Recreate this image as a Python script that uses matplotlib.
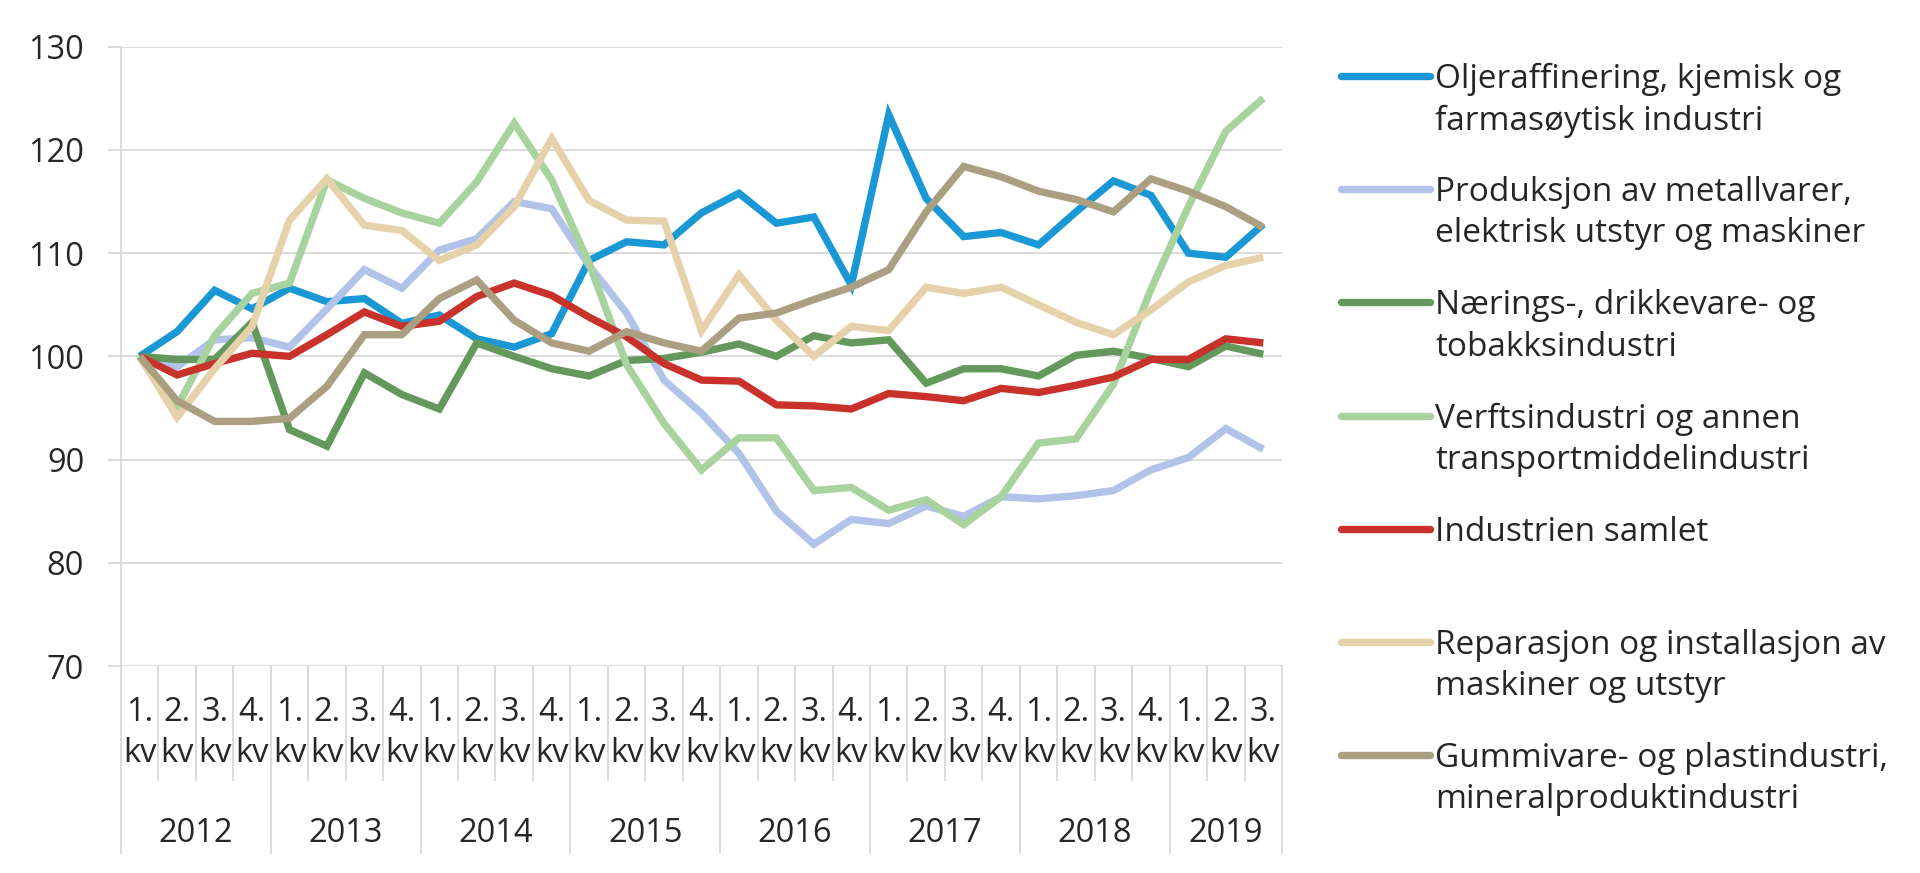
import matplotlib
matplotlib.use("Agg")
import matplotlib.pyplot as plt
import matplotlib.transforms as mtransforms
from matplotlib.lines import Line2D
import numpy as np

# kvartal 2012 K1 - 2019 K3, indeks 2012 K1 = 100
years = ['2012', '2013', '2014', '2015', '2016', '2017', '2018', '2019']
quarters = ['1.\nkv', '2.\nkv', '3.\nkv', '4.\nkv']
n_quarters = 31

names = ['Oljeraffinering, kjemisk og\nfarmasøytisk industri',
         'Produksjon av metallvarer,\nelektrisk utstyr og maskiner',
         'Nærings-, drikkevare- og\ntobakksindustri',
         'Verftsindustri og annen\ntransportmiddelindustri',
         'Industrien samlet',
         'Reparasjon og installasjon av\nmaskiner og utstyr',
         'Gummivare- og plastindustri,\nmineralproduktindustri']
colors = ['#1a98d5', '#b1c3e8', '#64985c', '#a8d29e', '#c8322a', '#e6d2aa', '#ab9f82']

olje = [100, 102.4, 106.4, 104.6, 106.6, 105.3, 105.6, 103.2, 104, 101.7, 100.9, 102.2,
        109.3, 111.1, 110.8, 113.9, 115.8, 112.9, 113.5, 106.9, 123.4, 115.3, 111.6, 112,
        110.8, 114, 117, 115.6, 110, 109.6, 112.8]
metall = [100, 99, 101.6, 101.8, 100.9, 104.6, 108.4, 106.6, 110.3, 111.4, 115, 114.3,
          108.8, 104.2, 97.7, 94.5, 90.6, 85, 81.8, 84.2, 83.8, 85.5, 84.5, 86.4,
          86.2, 86.5, 87, 89, 90.2, 93, 91]
naerings = [100, 99.7, 99.7, 103.3, 92.9, 91.3, 98.4, 96.3, 94.9, 101.3, 100, 98.8,
            98.1, 99.6, 99.8, 100.4, 101.2, 100, 102, 101.3, 101.6, 97.4, 98.8, 98.8,
            98.1, 100.1, 100.5, 99.8, 99, 101, 100.2]
verft = [100, 95.1, 102, 106.1, 107.1, 117.1, 115.3, 113.9, 112.9, 116.9, 122.6, 117.1,
         109, 99.2, 93.5, 89, 92.1, 92.1, 87, 87.3, 85.1, 86.1, 83.7, 86.4,
         91.6, 92, 97.3, 106.5, 114.5, 121.8, 125]
samlet = [100, 98.2, 99.3, 100.3, 100, 102.1, 104.3, 102.9, 103.4, 105.8, 107.1, 105.9,
          103.8, 101.9, 99.3, 97.7, 97.6, 95.3, 95.2, 94.9, 96.4, 96.1, 95.7, 96.9,
          96.5, 97.2, 98, 99.7, 99.7, 101.7, 101.3]
reparasjon = [100, 94.1, 98.8, 102.9, 113.2, 117.2, 112.7, 112.2, 109.3, 110.8, 114.5, 121.1,
              115.1, 113.2, 113.1, 102.5, 107.9, 103.5, 100, 102.9, 102.5, 106.7, 106.1, 106.7,
              105, 103.3, 102.1, 104.5, 107.2, 108.8, 109.6]
gummi = [100, 95.7, 93.7, 93.7, 94, 97.1, 102.1, 102.1, 105.6, 107.4, 103.5, 101.3,
         100.5, 102.4, 101.3, 100.5, 103.7, 104.2, 105.5, 106.7, 108.4, 114, 118.4, 117.4,
         116, 115.2, 114, 117.2, 116, 114.5, 112.5]

series = [olje, metall, naerings, verft, samlet, reparasjon, gummi]

plt.rcParams['font.family'] = ['Open Sans', 'DejaVu Sans']
text_col = '#262626'
grid_col = '#d9d9d9'
fs = 23.5
fs_leg = 24

fig = plt.figure(figsize=(19.2, 8.73), dpi=100)
ax = fig.add_axes([0.063, 0.2371, 0.6047, 0.7094])

x = np.arange(n_quarters)
for vals, col in zip(series, colors):
    ax.plot(x, vals, color=col, lw=5.3, solid_joinstyle='miter', solid_capstyle='butt', zorder=3)

ax.set_xlim(-0.5, n_quarters - 0.5)
ax.set_ylim(70, 130)
ax.set_yticks(np.arange(70, 131, 10))
ax.yaxis.grid(True, color=grid_col, lw=1.3)
ax.tick_params(axis='y', length=9.5, width=1.3, color=grid_col, labelsize=fs,
               labelcolor=text_col, pad=17)
ax.set_xticks([])
for s in ['top', 'right', 'bottom']:
    ax.spines[s].set_visible(False)
ax.spines['left'].set_color(grid_col)
ax.spines['left'].set_linewidth(1.3)

# kategoriakse med kvartal og år
trans = mtransforms.blended_transform_factory(ax.transData, ax.transAxes)
for i in range(n_quarters):
    ax.text(i, -0.108, quarters[i % 4], transform=trans, ha='center', va='center',
            fontsize=fs, color=text_col, linespacing=1.3)
for b in range(n_quarters + 1):
    bottom = -0.302 if b % 4 == 0 or b == n_quarters else -0.184
    ax.plot([b - 0.5, b - 0.5], [0, bottom], transform=trans, color=grid_col,
            lw=1.3, clip_on=False)
for k, yr in enumerate(years):
    start = 4 * k
    end = min(4 * k + 4, n_quarters)
    ax.text((start + end - 1) / 2, -0.27, yr, transform=trans, ha='center', va='center',
            fontsize=fs, color=text_col)

# tegnforklaring
for i, (name, col) in enumerate(zip(names, colors)):
    y_px = 76 + 113.2 * i
    fig.add_artist(Line2D([0.6984, 0.7448], [1 - y_px / 873] * 2, transform=fig.transFigure,
                          color=col, lw=5.3, solid_capstyle='round'))
    shift = 16 if '\n' in name else 0
    fig.text(0.7474, 1 - (y_px + shift) / 873, name, ha='left', va='center_baseline',
             fontsize=fs_leg, color=text_col, linespacing=1.33)

fig.savefig('out.png', dpi=100, facecolor='white')
